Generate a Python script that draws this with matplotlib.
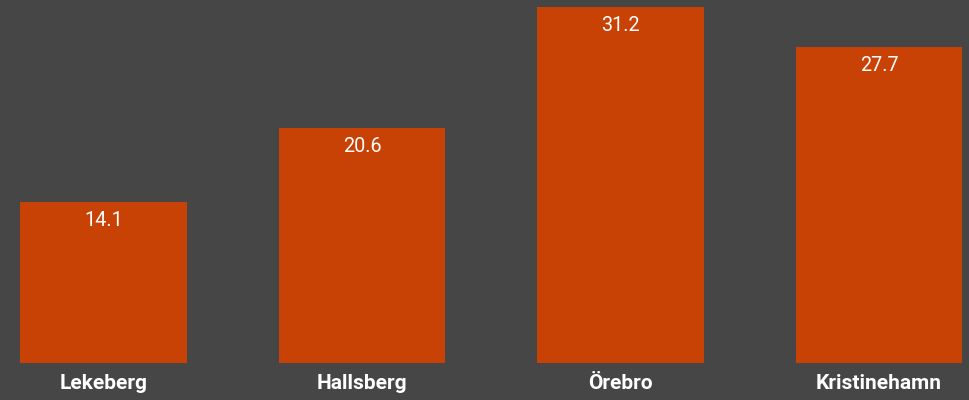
import matplotlib
matplotlib.use("Agg")
import matplotlib.pyplot as plt

categories = ["Lekeberg", "Hallsberg", "Örebro", "Kristinehamn"]
values = [14.1, 20.6, 31.2, 27.7]
value_labels = ["14.1", "20.6", "31.2", "27.7"]

bg = "#464646"
bar_color = "#C84105"

plt.rcParams['font.family'] = ['Roboto', 'DejaVu Sans']

fig = plt.figure(figsize=(9.70, 4.00), dpi=100, facecolor=bg)
# axes spanning from top to y=363 px
ax = fig.add_axes([0, (400 - 363) / 400, 1, 363 / 400])
ax.set_facecolor(bg)

x = list(range(len(categories)))
ax.bar(x, values, width=0.646, color=bar_color)

px_per_unit_x = 258.5
left = -103.5 / px_per_unit_x
right = left + 970 / px_per_unit_x
ax.set_xlim(left, right)
ax.set_ylim(0, 363 / 11.4)

for xi, v, lab in zip(x, values, value_labels):
    ax.annotate(lab, (xi, v), xytext=(0, -6.5), textcoords="offset points",
                ha="center", va="top", color="white", fontsize=14.3)

ax.set_xticks(x)
ax.set_xticklabels(categories, fontsize=15, fontweight="bold", color="white")
ax.tick_params(axis="x", length=0, pad=8)
ax.set_yticks([])
for s in ax.spines.values():
    s.set_visible(False)

fig.savefig("out.png", dpi=100, facecolor=bg)
